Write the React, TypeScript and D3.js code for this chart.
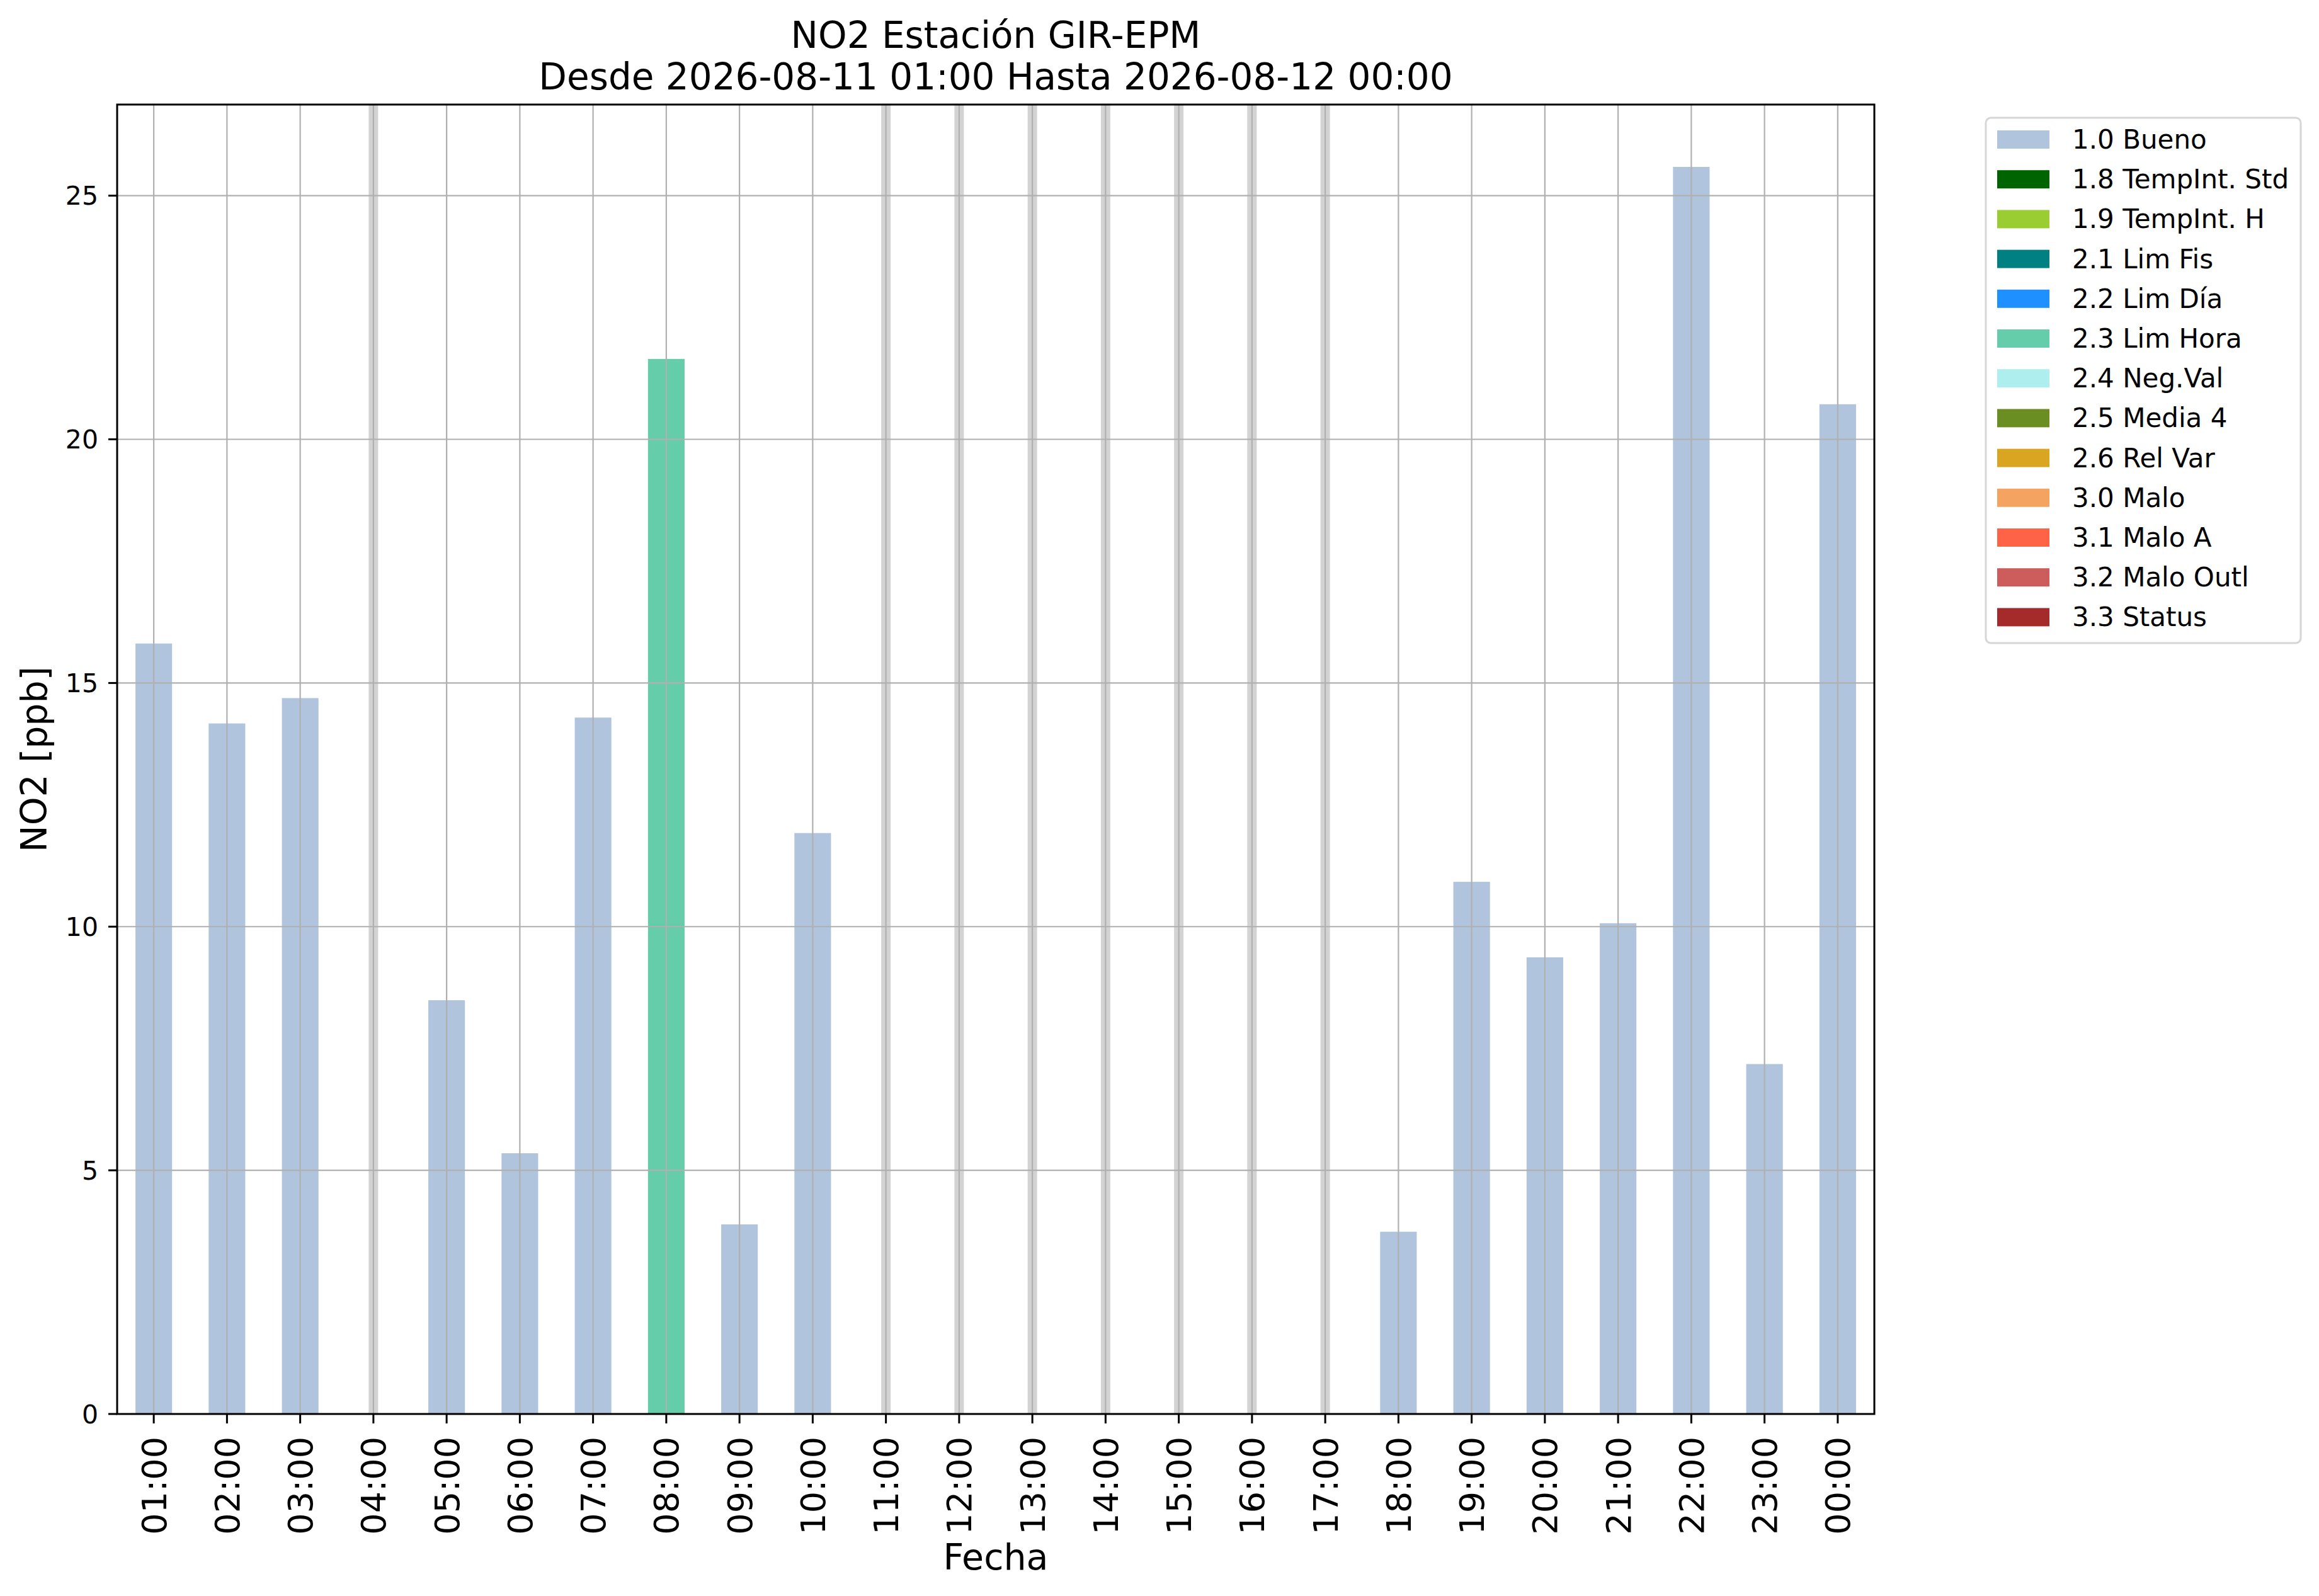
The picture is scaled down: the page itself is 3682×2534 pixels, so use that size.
import * as d3 from "d3";
import React, { useEffect } from "react";

// hourly NO2 values (null = no data)
const hours = [
	"01:00", "02:00", "03:00", "04:00", "05:00", "06:00", "07:00", "08:00",
	"09:00", "10:00", "11:00", "12:00", "13:00", "14:00", "15:00", "16:00",
	"17:00", "18:00", "19:00", "20:00", "21:00", "22:00", "23:00", "00:00",
];
const no2: (number | null)[] = [
	15.81, 14.17, 14.69, null, 8.49, 5.35, 14.29, 21.65,
	3.89, 11.92, null, null, null, null, null, null,
	null, 3.74, 10.92, 9.37, 10.07, 25.59, 7.18, 20.72,
];
const flags = [
	"1.0 Bueno", "1.0 Bueno", "1.0 Bueno", "1.0 Bueno", "1.0 Bueno", "1.0 Bueno", "1.0 Bueno", "2.3 Lim Hora",
	"1.0 Bueno", "1.0 Bueno", "1.0 Bueno", "1.0 Bueno", "1.0 Bueno", "1.0 Bueno", "1.0 Bueno", "1.0 Bueno",
	"1.0 Bueno", "1.0 Bueno", "1.0 Bueno", "1.0 Bueno", "1.0 Bueno", "1.0 Bueno", "1.0 Bueno", "1.0 Bueno",
];

const legendLabels = [
	"1.0 Bueno", "1.8 TempInt. Std", "1.9 TempInt. H", "2.1 Lim Fis", "2.2 Lim Día",
	"2.3 Lim Hora", "2.4 Neg.Val", "2.5 Media 4", "2.6 Rel Var", "3.0 Malo",
	"3.1 Malo A", "3.2 Malo Outl", "3.3 Status",
];
const legendColors = [
	"#b0c4de", "#006400", "#9acd32", "#008080", "#1e90ff",
	"#66cdaa", "#afeeee", "#6b8e23", "#daa520", "#f4a460",
	"#ff6347", "#cd5c5c", "#a52a2a",
];
const yTicks = [0, 5, 10, 15, 20, 25];

const titleLines = ["NO2 Estación GIR-EPM", "Desde 2026-08-11 01:00 Hasta 2026-08-12 00:00"];

const W = 3682, H = 2534;
const margin = { top: 166, right: 706, bottom: 289, left: 186 };
const FONT = "DejaVu Sans, sans-serif";

const App = (): JSX.Element => {
	useEffect(() => {
		document.body.style.margin = "0";
	}, []);

	const x0 = margin.left, x1 = W - margin.right;
	const y0 = H - margin.bottom, y1 = margin.top;

	const x = d3.scaleBand().domain(hours).range([x0, x1]).paddingInner(0.5).paddingOuter(0.25);
	const yMax = (d3.max(no2, (d) => d ?? 0) as number) * 1.05;
	const y = d3.scaleLinear().domain([0, yMax]).range([y0, y1]);
	const color = d3.scaleOrdinal<string, string>().domain(legendLabels).range(legendColors);
	const cx = (h: string) => (x(h) as number) + x.bandwidth() / 2;
	const midX = (x0 + x1) / 2;

	return (
		<svg width={W} height={H} style={{ display: "block", background: "#fff" }} fontFamily={FONT}>
			<rect x={0} y={0} width={W} height={H} fill="#fff" />
			{/* missing hours */}
			{hours.map((h, i) =>
				no2[i] === null ? (
					<rect key={"m" + h} x={cx(h) - 7.5} y={y1} width={15} height={y0 - y1} fill="#d3d3d3" />
				) : null
			)}
			{/* bars */}
			{hours.map((h, i) =>
				no2[i] !== null ? (
					<rect
						key={"b" + h}
						x={x(h)}
						y={y(no2[i] as number)}
						width={x.bandwidth()}
						height={y0 - y(no2[i] as number)}
						fill={color(flags[i])}
					/>
				) : null
			)}
			{/* grid */}
			{hours.map((h) => (
				<line key={"gx" + h} x1={cx(h)} x2={cx(h)} y1={y1} y2={y0} stroke="#b0b0b0" strokeWidth={2.2} />
			))}
			{yTicks.map((t) => (
				<line key={"gy" + t} x1={x0} x2={x1} y1={y(t)} y2={y(t)} stroke="#b0b0b0" strokeWidth={2.2} />
			))}
			{/* frame */}
			<rect x={x0} y={y1} width={x1 - x0} height={y0 - y1} fill="none" stroke="#000" strokeWidth={3} />
			{/* y axis */}
			{yTicks.map((t) => (
				<g key={"ty" + t}>
					<line x1={x0 - 14} x2={x0} y1={y(t)} y2={y(t)} stroke="#000" strokeWidth={3} />
					<text x={x0 - 30} y={y(t)} dy="0.36em" textAnchor="end" fontSize={41}>
						{t}
					</text>
				</g>
			))}
			{/* x axis */}
			{hours.map((h) => (
				<g key={"tx" + h}>
					<line x1={cx(h)} x2={cx(h)} y1={y0} y2={y0 + 15} stroke="#000" strokeWidth={3} />
					<text
						transform={`translate(${cx(h)},${y0 + 36}) rotate(-90)`}
						dy="0.36em"
						textAnchor="end"
						fontSize={54}
					>
						{h}
					</text>
				</g>
			))}
			<text x={midX} y={2492} textAnchor="middle" fontSize={57}>
				Fecha
			</text>
			<text transform={`translate(74,${(y0 + y1) / 2}) rotate(-90)`} textAnchor="middle" fontSize={57}>
				NO2 [ppb]
			</text>
			{/* title */}
			{titleLines.map((t, i) => (
				<text key={"tt" + i} x={midX} y={76 + i * 66} textAnchor="middle" fontSize={58}>
					{t}
				</text>
			))}
			{/* legend */}
			<g>
				<rect x={3153} y={187} width={500} height={834} rx={8} fill="#fff" stroke="#d6d6d6" strokeWidth={3} />
				{legendLabels.map((l, i) => (
					<g key={"lg" + l} transform={`translate(0,${i * 63.2})`}>
						<rect x={3171} y={207} width={83} height={29} fill={legendColors[i]} />
						<text x={3290} y={236} fontSize={42}>
							{l}
						</text>
					</g>
				))}
			</g>
		</svg>
	);
};

export default App;
